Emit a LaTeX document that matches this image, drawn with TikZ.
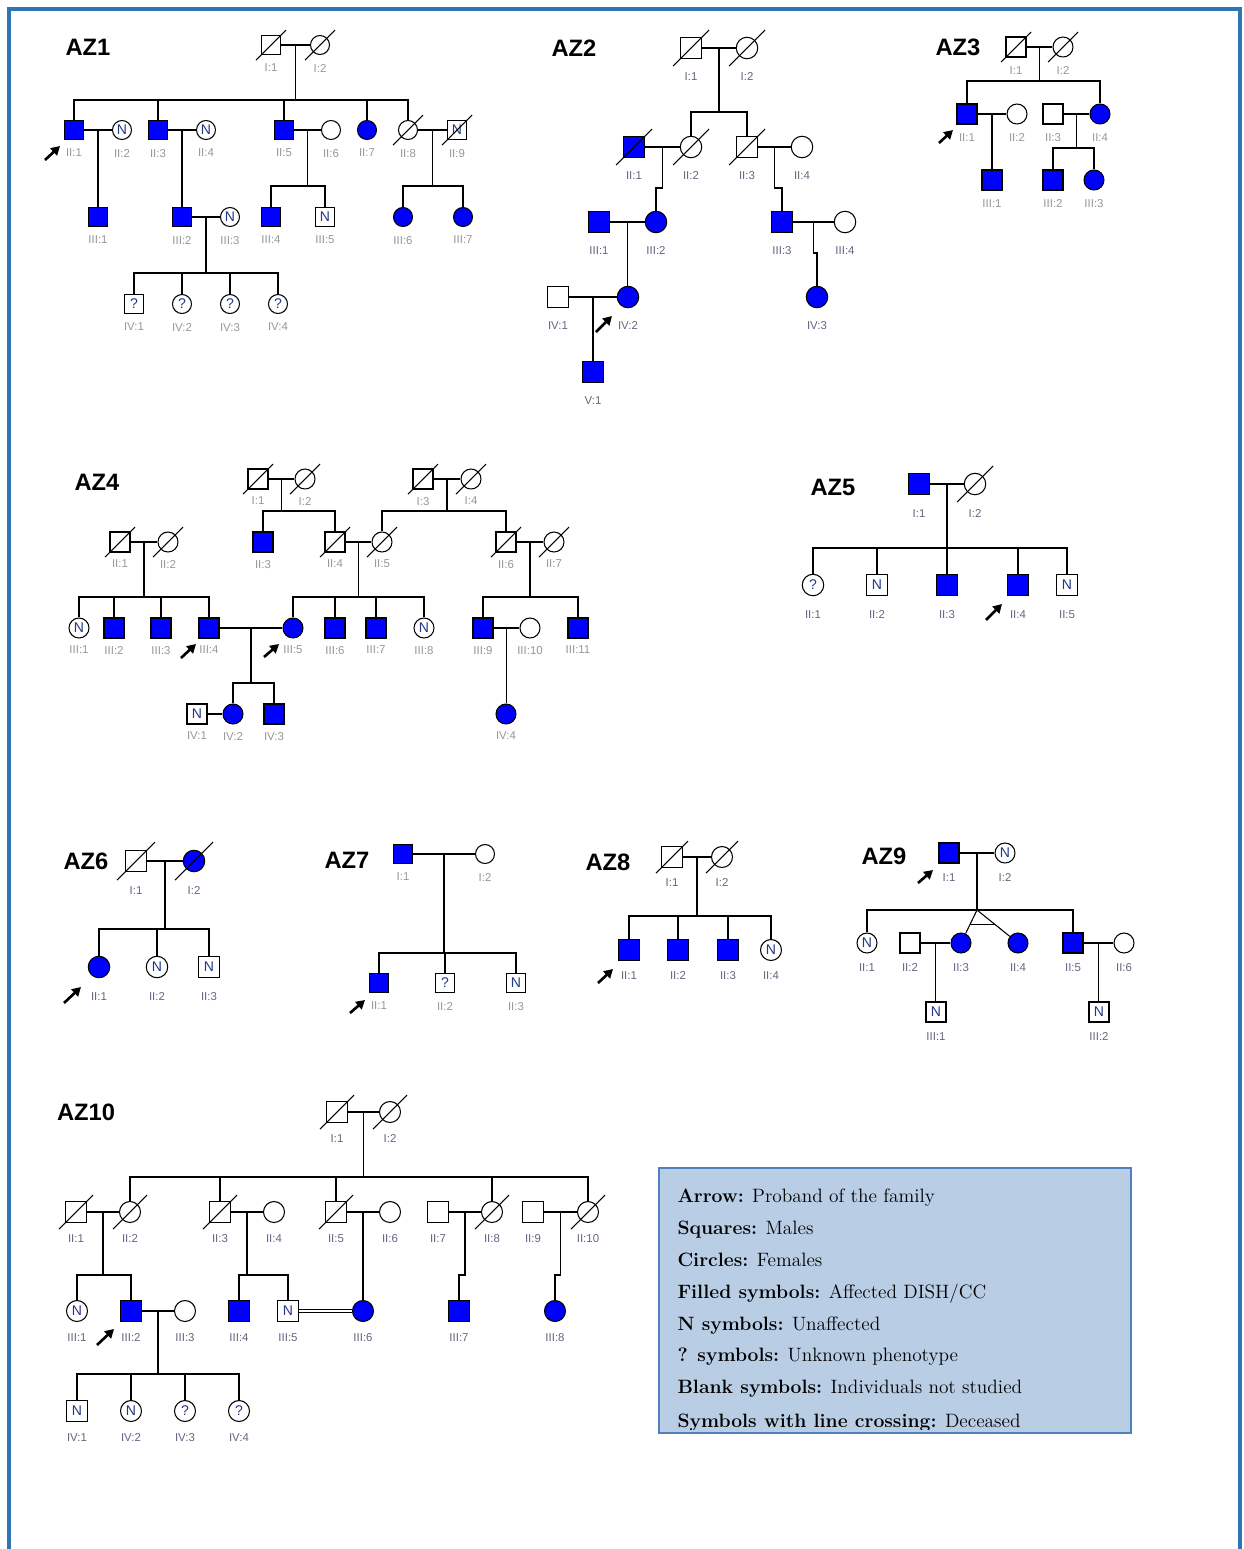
\documentclass[tikz,border=0pt]{standalone}
\usepackage{fontspec}
\setsansfont{Liberation Sans}
\usetikzlibrary{arrows.meta,calc}
\definecolor{cAff}{RGB}{0,0,255}
\definecolor{cFrame}{RGB}{46,117,182}
\definecolor{cLegFill}{RGB}{185,205,229}
\definecolor{cLegLine}{RGB}{79,129,189}
\definecolor{cMark}{RGB}{35,55,135}
\definecolor{cGrey}{RGB}{150,150,150}
\definecolor{cPurple}{RGB}{110,95,130}
% slash through a deceased individual
\newcommand{\dead}[1]{\draw (#1.center) ++(-\dl,\dl) -- ++(2*\dl,-2*\dl);}

\begin{document}
\begin{tikzpicture}[x=0.02cm,y=-0.02cm,line width=0.6pt,
    sq/.style={rectangle,draw,fill=white,minimum size=\sz,inner sep=0pt,font=\sffamily\fontsize{8}{8}\selectfont,text=cMark},
    ci/.style={circle,draw,fill=white,minimum size=\sz,inner sep=0pt,font=\sffamily\fontsize{8}{8}\selectfont,text=cMark},
    aff/.style={fill=cAff},
    lbl/.style={font=\sffamily\fontsize{6.5}{6.5}\selectfont,text=\lc,inner sep=0pt,yshift=-\ld},
    lab/.style={label={[lbl]below:{#1}}},
    famname/.style={font=\sffamily\bfseries\fontsize{13.5}{14}\selectfont,inner sep=0pt},
    proband/.style={-{Triangle[length=5pt,width=5.5pt]},line width=1.5pt},
    legtext/.style={anchor=base west,inner sep=0pt,font=\fontsize{11}{13}\selectfont}
  ]
  \useasboundingbox (0,0) rectangle (1244,1549);
  \draw[cFrame,line width=1.8pt] (9,1549) -- (9,9) -- (1240,9) -- (1240,1549);

  % ---------------- AZ1
  \begin{scope}[name prefix=a1-]
  \def\sz{0.38cm}\def\ld{0.17cm}\def\dl{15}\def\lc{cGrey}
  \node[famname] (t) at (88,47) {AZ1};
  \node[sq,lab=I:1] (i1) at (271,45) {};
  \node[ci,lab=I:2] (i2) at (320,45) {};
  \dead{i1} \dead{i2}
  \node[sq,aff,lab=II:1] (ii1) at (74,130) {};
  \node[ci,lab=II:2] (ii2) at (122,130) {N};
  \node[sq,aff,lab=II:3] (ii3) at (158,130) {};
  \node[ci,lab=II:4] (ii4) at (206,130) {N};
  \node[sq,aff,lab=II:5] (ii5) at (284,130) {};
  \node[ci,lab=II:6] (ii6) at (331,130) {};
  \node[ci,aff,lab=II:7] (ii7) at (367,130) {};
  \node[ci,lab=II:8] (ii8) at (408,130) {};
  \node[sq,lab=II:9] (ii9) at (457,130) {N};
  \dead{ii8} \dead{ii9}
  \node[sq,aff,lab=III:1] (iii1) at (98,217) {};
  \node[sq,aff,lab=III:2] (iii2) at (182,217) {};
  \node[ci,lab=III:3] (iii3) at (230,217) {N};
  \node[sq,aff,lab=III:4] (iii4) at (271,217) {};
  \node[sq,lab=III:5] (iii5) at (325,217) {N};
  \node[ci,aff,lab=III:6] (iii6) at (403,217) {};
  \node[ci,aff,lab=III:7] (iii7) at (463,217) {};
  \node[sq,lab=IV:1] (iv1) at (134,304) {?};
  \node[ci,lab=IV:2] (iv2) at (182,304) {?};
  \node[ci,lab=IV:3] (iv3) at (230,304) {?};
  \node[ci,lab=IV:4] (iv4) at (278,304) {?};

  \draw (i1) -- (i2);
  \coordinate (m1) at ($(i1)!.5!(i2)$);
  \coordinate (s1) at ($(m1)+(0,55)$);
  \draw (m1) -- (s1);
  \draw (ii1.north) |- (s1) -| (ii8.north);
  \draw (ii3.north) -- (ii3.north |- s1);
  \draw (ii5.north) -- (ii5.north |- s1);
  \draw (ii7.north) -- (ii7.north |- s1);
  \draw (ii1) -- (ii2);
  \coordinate (m2) at ($(ii1)!.5!(ii2)$);
  \draw (m2) -- (m2 |- iii1.north);
  \draw (ii3) -- (ii4);
  \coordinate (m3) at ($(ii3)!.5!(ii4)$);
  \draw (m3) -- (m3 |- iii2.north);
  \draw (ii5) -- (ii6);
  \coordinate (m4) at ($(ii5)!.5!(ii6)$);
  \coordinate (s4) at ($(m4)+(0,56)$);
  \draw (m4) -- (s4);
  \draw (iii4.north) |- (s4) -| (iii5.north);
  \draw (ii8) -- (ii9);
  \coordinate (m5) at ($(ii8)!.5!(ii9)$);
  \coordinate (s5) at ($(m5)+(0,56)$);
  \draw (m5) -- (s5);
  \draw (iii6.north) |- (s5) -| (iii7.north);
  \draw (iii2) -- (iii3);
  \coordinate (m6) at ($(iii2)!.5!(iii3)$);
  \coordinate (s6) at ($(m6)+(0,56)$);
  \draw (m6) -- (s6);
  \draw (iv1.north) |- (s6) -| (iv4.north);
  \draw (iv2.north) -- (iv2.north |- s6);
  \draw (iv3.north) -- (iv3.north |- s6);
  \coordinate (pb) at (45,160);
  \draw[proband] (pb) -- ++(15,-14);
  \end{scope}

  % ---------------- AZ2
  \begin{scope}[name prefix=a2-]
  \def\sz{0.43cm}\def\ld{0.25cm}\def\dl{18}\def\lc{cPurple}
  \node[famname] (t) at (574,48) {AZ2};
  \node[sq,lab=I:1] (i1) at (691,48) {};
  \node[ci,lab=I:2] (i2) at (747,48) {};
  \dead{i1} \dead{i2}
  \node[sq,aff,lab=II:1] (ii1) at (634,147) {};
  \node[ci,lab=II:2] (ii2) at (691,147) {};
  \node[sq,lab=II:3] (ii3) at (747,147) {};
  \node[ci,lab=II:4] (ii4) at (802,147) {};
  \dead{ii1} \dead{ii2} \dead{ii3}
  \node[sq,aff,lab=III:1] (iii1) at (599,222) {};
  \node[ci,aff,lab=III:2] (iii2) at (656,222) {};
  \node[sq,aff,lab=III:3] (iii3) at (782,222) {};
  \node[ci,lab=III:4] (iii4) at (845,222) {};
  \node[sq,lab=IV:1] (iv1) at (558,297) {};
  \node[ci,aff,lab=IV:2] (iv2) at (628,297) {};
  \node[ci,aff,lab=IV:3] (iv3) at (817,297) {};
  \node[sq,aff,lab=V:1] (v1) at (593,372) {};

  \draw (i1) -- (i2);
  \coordinate (m1) at ($(i1)!.5!(i2)$);
  \coordinate (s1) at ($(m1)+(0,64)$);
  \draw (m1) -- (s1);
  \draw (ii2.north) |- (s1) -| (ii3.north);
  \draw (ii1) -- (ii2);
  \coordinate (m2) at ($(ii1)!.5!(ii2)$);
  \draw (m2) -- ++(0,41) -| (iii2.north);
  \draw (ii3) -- (ii4);
  \coordinate (m3) at ($(ii3)!.5!(ii4)$);
  \draw (m3) -- ++(0,41) -| (iii3.north);
  \draw (iii1) -- (iii2);
  \coordinate (m4) at ($(iii1)!.5!(iii2)$);
  \draw (m4) -- (m4 |- iv2.north);
  \draw (iii3) -- (iii4);
  \coordinate (m5) at ($(iii3)!.5!(iii4)$);
  \draw (m5) -- ++(0,31) -| (iv3.north);
  \draw (iv1) -- (iv2);
  \coordinate (m6) at ($(iv1)!.5!(iv2)$);
  \draw (m6) -- (m6 |- v1.north);
  \coordinate (pb) at (596,332);
  \draw[proband] (pb) -- ++(16,-16);
  \end{scope}

  % ---------------- AZ3
  \begin{scope}[name prefix=a3-]
  \def\sz{0.4cm}\def\ld{0.17cm}\def\dl{15}\def\lc{cGrey}
  \node[famname] (t) at (958,47) {AZ3};
  \node[sq,lab=I:1] (i1) at (1016,47) {};
  \node[ci,lab=I:2] (i2) at (1063,47) {};
  \dead{i1} \dead{i2}
  \node[sq,aff,lab=II:1] (ii1) at (967,114) {};
  \node[ci,lab=II:2] (ii2) at (1017,114) {};
  \node[sq,lab=II:3] (ii3) at (1053,114) {};
  \node[ci,aff,lab=II:4] (ii4) at (1100,114) {};
  \node[sq,aff,lab=III:1] (iii1) at (992,180) {};
  \node[sq,aff,lab=III:2] (iii2) at (1053,180) {};
  \node[ci,aff,lab=III:3] (iii3) at (1094,180) {};

  \draw (i1) -- (i2);
  \coordinate (m1) at ($(i1)!.5!(i2)$);
  \coordinate (s1) at ($(m1)+(0,34)$);
  \draw (m1) -- (s1);
  \draw (ii1.north) |- (s1) -| (ii4.north);
  \draw (ii1) -- (ii2);
  \coordinate (m2) at ($(ii1)!.5!(ii2)$);
  \draw (m2) -- (m2 |- iii1.north);
  \draw (ii3) -- (ii4);
  \coordinate (m3) at ($(ii3)!.5!(ii4)$);
  \coordinate (s3) at ($(m3)+(0,34)$);
  \draw (m3) -- (s3);
  \draw (iii2.north) |- (s3) -| (iii3.north);
  \coordinate (pb) at (939,143);
  \draw[proband] (pb) -- ++(14,-13);
  \end{scope}

  % ---------------- AZ4
  \begin{scope}[name prefix=a4-]
  \def\sz{0.4cm}\def\ld{0.14cm}\def\dl{15}\def\lc{cGrey}
  \node[famname] (t) at (97,482) {AZ4};
  \node[sq,lab=I:1] (i1) at (258,479) {};
  \node[ci,lab=I:2] (i2) at (305,479) {};
  \node[sq,lab=I:3] (i3) at (423,479) {};
  \node[ci,lab=I:4] (i4) at (471,479) {};
  \dead{i1} \dead{i2} \dead{i3} \dead{i4}
  \node[sq,lab=II:1] (ii1) at (120,542) {};
  \node[ci,lab=II:2] (ii2) at (168,542) {};
  \node[sq,aff,lab=II:3] (ii3) at (263,542) {};
  \node[sq,lab=II:4] (ii4) at (335,542) {};
  \node[ci,lab=II:5] (ii5) at (382,542) {};
  \node[sq,lab=II:6] (ii6) at (506,542) {};
  \node[ci,lab=II:7] (ii7) at (554,542) {};
  \dead{ii1} \dead{ii2} \dead{ii4} \dead{ii5} \dead{ii6} \dead{ii7}
  \node[ci,lab=III:1] (iii1) at (79,628) {N};
  \node[sq,aff,lab=III:2] (iii2) at (114,628) {};
  \node[sq,aff,lab=III:3] (iii3) at (161,628) {};
  \node[sq,aff,lab=III:4] (iii4) at (209,628) {};
  \node[ci,aff,lab=III:5] (iii5) at (293,628) {};
  \node[sq,aff,lab=III:6] (iii6) at (335,628) {};
  \node[sq,aff,lab=III:7] (iii7) at (376,628) {};
  \node[ci,lab=III:8] (iii8) at (424,628) {N};
  \node[sq,aff,lab=III:9] (iii9) at (483,628) {};
  \node[ci,lab=III:10] (iii10) at (530,628) {};
  \node[sq,aff,lab=III:11] (iii11) at (578,628) {};
  \node[sq,lab=IV:1] (iv1) at (197,714) {N};
  \node[ci,aff,lab=IV:2] (iv2) at (233,714) {};
  \node[sq,aff,lab=IV:3] (iv3) at (274,714) {};
  \node[ci,aff,lab=IV:4] (iv4) at (506,714) {};

  \draw (i1) -- (i2);
  \coordinate (m1) at ($(i1)!.5!(i2)$);
  \coordinate (s1) at ($(m1)+(0,32)$);
  \draw (m1) -- (s1);
  \draw (ii3.north) |- (s1) -| (ii4.north);
  \draw (i3) -- (i4);
  \coordinate (m2) at ($(i3)!.5!(i4)$);
  \coordinate (s2) at ($(m2)+(0,32)$);
  \draw (m2) -- (s2);
  \draw (ii5.north) |- (s2) -| (ii6.north);
  \draw (ii1) -- (ii2);
  \coordinate (m3) at ($(ii1)!.5!(ii2)$);
  \coordinate (s3) at ($(m3)+(0,55)$);
  \draw (m3) -- (s3);
  \draw (iii1.north) |- (s3) -| (iii4.north);
  \draw (iii2.north) -- (iii2.north |- s3);
  \draw (iii3.north) -- (iii3.north |- s3);
  \draw (ii4) -- (ii5);
  \coordinate (m4) at ($(ii4)!.5!(ii5)$);
  \coordinate (s4) at ($(m4)+(0,55)$);
  \draw (m4) -- (s4);
  \draw (iii5.north) |- (s4) -| (iii8.north);
  \draw (iii6.north) -- (iii6.north |- s4);
  \draw (iii7.north) -- (iii7.north |- s4);
  \draw (ii6) -- (ii7);
  \coordinate (m5) at ($(ii6)!.5!(ii7)$);
  \coordinate (s5) at ($(m5)+(0,55)$);
  \draw (m5) -- (s5);
  \draw (iii9.north) |- (s5) -| (iii11.north);
  \draw (iii4) -- (iii5);
  \coordinate (m6) at ($(iii4)!.5!(iii5)$);
  \coordinate (s6) at ($(m6)+(0,55)$);
  \draw (m6) -- (s6);
  \draw (iv2.north) |- (s6) -| (iv3.north);
  \draw (iv1) -- (iv2);
  \draw (iii9) -- (iii10);
  \coordinate (m7) at ($(iii9)!.5!(iii10)$);
  \draw (m7) -- (m7 |- iv4.north);
  \coordinate (pb1) at (181,658);
  \draw[proband] (pb1) -- ++(15,-14);
  \coordinate (pb2) at (264,657);
  \draw[proband] (pb2) -- ++(15,-13);
  \end{scope}

  % ---------------- AZ5
  \begin{scope}[name prefix=a5-]
  \def\sz{0.43cm}\def\ld{0.28cm}\def\dl{18}\def\lc{cPurple}
  \node[famname] (t) at (833,487) {AZ5};
  \node[sq,aff,lab=I:1] (i1) at (919,484) {};
  \node[ci,lab=I:2] (i2) at (975,484) {};
  \dead{i2}
  \node[ci,lab=II:1] (ii1) at (813,585) {?};
  \node[sq,lab=II:2] (ii2) at (877,585) {N};
  \node[sq,aff,lab=II:3] (ii3) at (947,585) {};
  \node[sq,aff,lab=II:4] (ii4) at (1018,585) {};
  \node[sq,lab=II:5] (ii5) at (1067,585) {N};

  \draw (i1) -- (i2);
  \coordinate (m1) at ($(i1)!.5!(i2)$);
  \coordinate (s1) at ($(m1)+(0,64)$);
  \draw (m1) -- (s1);
  \draw (ii1.north) |- (s1) -| (ii5.north);
  \draw (ii2.north) -- (ii2.north |- s1);
  \draw (ii3.north) -- (ii3.north |- s1);
  \draw (ii4.north) -- (ii4.north |- s1);
  \coordinate (pb) at (986,620);
  \draw[proband] (pb) -- ++(16,-16);
  \end{scope}

  % ---------------- AZ6
  \begin{scope}[name prefix=a6-]
  \def\sz{0.43cm}\def\ld{0.27cm}\def\dl{19}\def\lc{cPurple}
  \node[famname] (t) at (86,861) {AZ6};
  \node[sq,lab=I:1] (i1) at (136,861) {};
  \node[ci,aff,lab=I:2] (i2) at (194,861) {};
  \dead{i1} \dead{i2}
  \node[ci,aff,lab=II:1] (ii1) at (99,967) {};
  \node[ci,lab=II:2] (ii2) at (157,967) {N};
  \node[sq,lab=II:3] (ii3) at (209,967) {N};

  \draw (i1) -- (i2);
  \coordinate (m1) at ($(i1)!.5!(i2)$);
  \coordinate (s1) at ($(m1)+(0,68)$);
  \draw (m1) -- (s1);
  \draw (ii1.north) |- (s1) -| (ii3.north);
  \draw (ii2.north) -- (ii2.north |- s1);
  \coordinate (pb) at (64,1003);
  \draw[proband] (pb) -- ++(17,-16);
  \end{scope}

  % ---------------- AZ7
  \begin{scope}[name prefix=a7-]
  \def\sz{0.38cm}\def\ld{0.17cm}\def\lc{cGrey}
  \node[famname] (t) at (347,860) {AZ7};
  \node[sq,aff,lab=I:1] (i1) at (403,854) {};
  \node[ci,lab=I:2] (i2) at (485,854) {};
  \node[sq,aff,lab=II:1] (ii1) at (379,983) {};
  \node[sq,lab=II:2] (ii2) at (445,983) {?};
  \node[sq,lab=II:3] (ii3) at (516,983) {N};

  \draw (i1) -- (i2);
  \coordinate (m1) at ($(i1)!.5!(i2)$);
  \coordinate (s1) at ($(m1)+(0,99)$);
  \draw (m1) -- (s1);
  \draw (ii1.north) |- (s1) -| (ii3.north);
  \draw (ii2.north) -- (ii2.north |- s1);
  \coordinate (pb) at (350,1013);
  \draw[proband] (pb) -- ++(15,-13);
  \end{scope}

  % ---------------- AZ8
  \begin{scope}[name prefix=a8-]
  \def\sz{0.42cm}\def\ld{0.2cm}\def\dl{16}\def\lc{cPurple}
  \node[famname] (t) at (608,862) {AZ8};
  \node[sq,lab=I:1] (i1) at (672,857) {};
  \node[ci,lab=I:2] (i2) at (722,857) {};
  \dead{i1} \dead{i2}
  \node[sq,aff,lab=II:1] (ii1) at (629,950) {};
  \node[sq,aff,lab=II:2] (ii2) at (678,950) {};
  \node[sq,aff,lab=II:3] (ii3) at (728,950) {};
  \node[ci,lab=II:4] (ii4) at (771,950) {N};

  \draw (i1) -- (i2);
  \coordinate (m1) at ($(i1)!.5!(i2)$);
  \coordinate (s1) at ($(m1)+(0,59)$);
  \draw (m1) -- (s1);
  \draw (ii1.north) |- (s1) -| (ii4.north);
  \draw (ii2.north) -- (ii2.north |- s1);
  \draw (ii3.north) -- (ii3.north |- s1);
  \coordinate (pb) at (598,983);
  \draw[proband] (pb) -- ++(15,-14);
  \end{scope}

  % ---------------- AZ9 (II:3 and II:4 are twins)
  \begin{scope}[name prefix=a9-]
  \def\sz{0.4cm}\def\ld{0.19cm}\def\lc{cPurple}
  \node[famname] (t) at (884,856) {AZ9};
  \node[sq,aff,lab=I:1] (i1) at (949,853) {};
  \node[ci,lab=I:2] (i2) at (1005,853) {N};
  \node[ci,lab=II:1] (ii1) at (867,943) {N};
  \node[sq,lab=II:2] (ii2) at (910,943) {};
  \node[ci,aff,lab=II:3] (ii3) at (961,943) {};
  \node[ci,aff,lab=II:4] (ii4) at (1018,943) {};
  \node[sq,aff,lab=II:5] (ii5) at (1073,943) {};
  \node[ci,lab=II:6] (ii6) at (1124,943) {};
  \node[sq,lab=III:1] (iii1) at (936,1012) {N};
  \node[sq,lab=III:2] (iii2) at (1099,1012) {N};

  \draw (i1) -- (i2);
  \coordinate (m1) at ($(i1)!.5!(i2)$);
  \coordinate (s1) at ($(m1)+(0,57)$);
  \draw (m1) -- (s1);
  \draw (ii1.north) |- (s1) -| (ii5.north);
  \draw (ii3) -- (s1) -- (ii4);
  \draw ($(s1)!.45!(ii3)$) -- ($(s1)!.45!(ii4)$);
  \draw (ii2) -- (ii3);
  \coordinate (m2) at ($(ii2)!.5!(ii3)$);
  \draw (m2) -- (m2 |- iii1.north);
  \draw (ii5) -- (ii6);
  \coordinate (m3) at ($(ii5)!.5!(ii6)$);
  \draw (m3) -- (m3 |- iii2.north);
  \coordinate (pb) at (918,883);
  \draw[proband] (pb) -- ++(15,-13);
  \end{scope}

  % ---------------- AZ10
  \begin{scope}[name prefix=a10-]
  \def\sz{0.42cm}\def\ld{0.22cm}\def\dl{17}\def\lc{cPurple}
  \node[famname] (t) at (86,1112) {AZ10};
  \node[sq,lab=I:1] (i1) at (337,1112) {};
  \node[ci,lab=I:2] (i2) at (390,1112) {};
  \dead{i1} \dead{i2}
  \node[sq,lab=II:1] (ii1) at (76,1212) {};
  \node[ci,lab=II:2] (ii2) at (130,1212) {};
  \node[sq,lab=II:3] (ii3) at (220,1212) {};
  \node[ci,lab=II:4] (ii4) at (274,1212) {};
  \node[sq,lab=II:5] (ii5) at (336,1212) {};
  \node[ci,lab=II:6] (ii6) at (390,1212) {};
  \node[sq,lab=II:7] (ii7) at (438,1212) {};
  \node[ci,lab=II:8] (ii8) at (492,1212) {};
  \node[sq,lab=II:9] (ii9) at (533,1212) {};
  \node[ci,lab=II:10] (ii10) at (588,1212) {};
  \dead{ii1} \dead{ii2} \dead{ii3} \dead{ii5} \dead{ii8} \dead{ii10}
  \node[ci,lab=III:1] (iii1) at (77,1311) {N};
  \node[sq,aff,lab=III:2] (iii2) at (131,1311) {};
  \node[ci,lab=III:3] (iii3) at (185,1311) {};
  \node[sq,aff,lab=III:4] (iii4) at (239,1311) {};
  \node[sq,lab=III:5] (iii5) at (288,1311) {N};
  \node[ci,aff,lab=III:6] (iii6) at (363,1311) {};
  \node[sq,aff,lab=III:7] (iii7) at (459,1311) {};
  \node[ci,aff,lab=III:8] (iii8) at (555,1311) {};
  \node[sq,lab=IV:1] (iv1) at (77,1411) {N};
  \node[ci,lab=IV:2] (iv2) at (131,1411) {N};
  \node[ci,lab=IV:3] (iv3) at (185,1411) {?};
  \node[ci,lab=IV:4] (iv4) at (239,1411) {?};

  \draw (i1) -- (i2);
  \coordinate (m1) at ($(i1)!.5!(i2)$);
  \coordinate (s1) at ($(m1)+(0,65)$);
  \draw (m1) -- (s1);
  \draw (ii2.north) |- (s1) -| (ii10.north);
  \draw (ii3.north) -- (ii3.north |- s1);
  \draw (ii5.north) -- (ii5.north |- s1);
  \draw (ii8.north) -- (ii8.north |- s1);
  \draw (ii1) -- (ii2);
  \coordinate (m2) at ($(ii1)!.5!(ii2)$);
  \coordinate (s2) at ($(m2)+(0,63)$);
  \draw (m2) -- (s2);
  \draw (iii1.north) |- (s2) -| (iii2.north);
  \draw (ii3) -- (ii4);
  \coordinate (m3) at ($(ii3)!.5!(ii4)$);
  \coordinate (s3) at ($(m3)+(0,63)$);
  \draw (m3) -- (s3);
  \draw (iii4.north) |- (s3) -| (iii5.north);
  \draw (ii5) -- (ii6);
  \coordinate (m4) at ($(ii5)!.5!(ii6)$);
  \draw (m4) -- (m4 |- iii6.north);
  \draw (ii7) -- (ii8);
  \coordinate (m5) at ($(ii7)!.5!(ii8)$);
  \draw (m5) -- ++(0,63) -| (iii7.north);
  \draw (ii9) -- (ii10);
  \coordinate (m6) at ($(ii9)!.5!(ii10)$);
  \draw (m6) -- ++(0,63) -| (iii8.north);
  \draw[double,double distance=1.4pt] (iii5) -- (iii6);
  \draw (iii2) -- (iii3);
  \coordinate (m7) at ($(iii2)!.5!(iii3)$);
  \coordinate (s7) at ($(m7)+(0,63)$);
  \draw (m7) -- (s7);
  \draw (iv1.north) |- (s7) -| (iv4.north);
  \draw (iv2.north) -- (iv2.north |- s7);
  \draw (iv3.north) -- (iv3.north |- s7);
  \coordinate (pb) at (97,1345);
  \draw[proband] (pb) -- ++(17,-16);
  \end{scope}

  % ---------------- key
  \draw[cLegLine,fill=cLegFill,line width=0.9pt] (659,1168) rectangle (1131,1433);
  \begin{scope}
  \clip (660,1169) rectangle (1130,1429);
  \node[legtext] (leg1) at (677,1202) {\textbf{Arrow:} Proband of the family};
  \node[legtext] (leg2) at (677,1234) {\textbf{Squares:} Males};
  \node[legtext] (leg3) at (677,1266) {\textbf{Circles:} Females};
  \node[legtext] (leg4) at (677,1298) {\textbf{Filled symbols:} Affected DISH/CC};
  \node[legtext] (leg5) at (677,1330) {\textbf{N symbols:} Unaffected};
  \node[legtext] (leg6) at (677,1361) {\textbf{? symbols:} Unknown phenotype};
  \node[legtext] (leg7) at (677,1393) {\textbf{Blank symbols:} Individuals not studied};
  \node[legtext] (leg8) at (677,1427) {\textbf{Symbols with line crossing:} Deceased};
  \end{scope}
\end{tikzpicture}
\end{document}
